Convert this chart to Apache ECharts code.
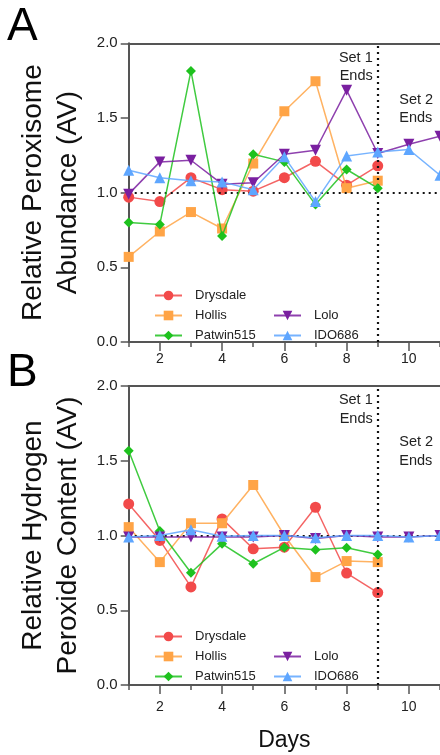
<!DOCTYPE html>
<html>
<head>
<meta charset="utf-8">
<script src="https://cdn.jsdelivr.net/npm/echarts@6/dist/echarts.min.js"></script>
<style>
html,body{margin:0;padding:0;background:#fff;}
#chart{width:440px;height:755px;}
</style>
</head>
<body>
<div id="chart"></div>
<script>
// ---- data ----
const days = [1, 2, 3, 4, 5, 6, 7, 8, 9, 10, 11];
const seriesNames = ['Drysdale', 'Hollis', 'Patwin515', 'Lolo', 'IDO686'];
const yTicks = [0, 0.5, 1.0, 1.5, 2.0];
const xLabelTicks = [2, 4, 6, 8, 10];

// Panel A: Relative Peroxisome Abundance
const aDrysdale  = [0.97, 0.94, 1.10, 1.02, 1.01, 1.10, 1.21, 1.05, 1.18];
const aHollis    = [0.57, 0.74, 0.87, 0.76, 1.195, 1.545, 1.746, 1.03, 1.08];
const aPatwin515 = [0.80, 0.787, 1.815, 0.71, 1.257, 1.206, 0.92, 1.155, 1.03];
const aLolo      = [0.99, 1.206, 1.217, 1.057, 1.066, 1.257, 1.284, 1.686, 1.262, 1.324, 1.378];
const aIDO686    = [1.15, 1.10, 1.08, 1.072, 1.02, 1.24, 0.94, 1.246, 1.273, 1.289, 1.117];

// Panel B: Relative Hydrogen Peroxide Content
const bDrysdale  = [1.211, 0.967, 0.656, 1.111, 0.911, 0.922, 1.189, 0.749, 0.618];
const bHollis    = [1.056, 0.822, 1.082, 1.082, 1.338, 1.0, 0.722, 0.829, 0.822];
const bPatwin515 = [1.567, 1.03, 0.751, 0.944, 0.811, 0.92, 0.904, 0.918, 0.873];
const bLolo      = [0.99, 0.99, 0.99, 0.99, 0.99, 1.0, 0.98, 1.0, 0.99, 0.99, 1.0];
const bIDO686    = [0.99, 1.0, 1.038, 0.995, 1.0, 1.0, 0.985, 1.0, 1.0, 0.99, 1.0];

const setEndDay = 9;
const refLevel = 1.0;

// ---- styles ----
const FONT = "'Liberation Sans', Arial, sans-serif";
const styleMap = {
  'Drysdale':  {color: '#f24a4a', symbol: 'circle', size: 11},
  'Hollis':    {color: '#ffa446', symbol: 'rect', size: 10},
  'Patwin515': {color: '#1ec21e', symbol: 'diamond', size: 10},
  'Lolo':      {color: '#7a1fa0', symbol: 'path://M0,0 L10,0 L5,10 Z', size: 11},
  'IDO686':    {color: '#5ea6ff', symbol: 'triangle', size: 11}
};
const axisColor = '#555';

const grids = [
  {left: 128.7, top: 43.3, width: 312.5, height: 298.7},
  {left: 128.7, top: 386, width: 312.5, height: 299}
];
const xLabelMargins = [10, 15];

function pairs(vals) { return vals.map((v, i) => [days[i], v]); }

const panelData = [
  [aDrysdale, aHollis, aPatwin515, aLolo, aIDO686],
  [bDrysdale, bHollis, bPatwin515, bLolo, bIDO686]
];
const yNames = ['Relative Peroxisome\nAbundance (AV)', 'Relative Hydrogen\nPeroxide Content (AV)'];

const xAxes = [], yAxes = [], series = [];
grids.forEach((g, gi) => {
  const base = gi * 3;
  // main x axis with short ticks at every day
  xAxes.push({
    type: 'value', gridIndex: gi, position: 'bottom', min: days[0], max: days[days.length - 1], interval: 1,
    axisLine: {show: true, onZero: false, lineStyle: {color: axisColor, width: 2}},
    axisTick: {show: true, length: 5, lineStyle: {color: axisColor, width: 1.5}},
    axisLabel: {show: false}, splitLine: {show: false},
    name: gi === 1 ? 'Days' : '', nameLocation: 'middle', nameGap: 44,
    nameTextStyle: {fontSize: 23, color: '#111', fontFamily: FONT}
  });
  // overlay axis for the long labelled ticks
  xAxes.push({
    type: 'value', gridIndex: gi, position: 'bottom', offset: 0, min: days[0], max: days[days.length - 1], interval: 1,
    axisLine: {show: false, onZero: false},
    axisTick: {show: true, length: 9, customValues: xLabelTicks, lineStyle: {color: axisColor, width: 1.5}},
    axisLabel: {show: true, customValues: xLabelTicks, fontSize: 14, color: '#222', fontFamily: FONT, margin: xLabelMargins[gi]},
    splitLine: {show: false}
  });
  // top frame line
  xAxes.push({
    type: 'value', gridIndex: gi, position: 'top', offset: 0, min: days[0], max: days[days.length - 1],
    axisLine: {show: true, onZero: false, lineStyle: {color: axisColor, width: 2}},
    axisTick: {show: false}, axisLabel: {show: false}, splitLine: {show: false}
  });
  yAxes.push({
    type: 'value', gridIndex: gi, min: yTicks[0], max: yTicks[yTicks.length - 1], interval: 0.5,
    axisLine: {show: true, onZero: false, lineStyle: {color: axisColor, width: 2}},
    axisTick: {show: true, length: 8, lineStyle: {color: axisColor, width: 1.5}},
    axisLabel: {fontSize: 15, color: '#222', fontFamily: FONT, margin: 11, formatter: v => v.toFixed(1)},
    splitLine: {show: false},
    name: yNames[gi], nameLocation: 'middle', nameRotate: 90, nameGap: 43,
    nameTextStyle: {fontSize: 28, lineHeight: 35, color: '#111', fontFamily: FONT, align: 'center'}
  });
  // reference lines
  series.push({
    type: 'line', xAxisIndex: base, yAxisIndex: gi, data: [], silent: true,
    markLine: {
      silent: true, symbol: 'none', label: {show: false}, animation: false,
      lineStyle: {color: '#111', type: [2, 4], width: 2.2},
      data: [{yAxis: refLevel}, {xAxis: setEndDay}]
    }
  });
  seriesNames.forEach((name, si) => {
    const st = styleMap[name];
    series.push({
      name: name, type: 'line', xAxisIndex: base, yAxisIndex: gi,
      data: pairs(panelData[gi][si]),
      symbol: st.symbol, symbolSize: st.size, showSymbol: true,
      lineStyle: {color: st.color, width: 1.5, opacity: 0.85},
      itemStyle: {color: st.color, opacity: 1},
      z: 3 + si, animation: false, clip: false
    });
  });
});

const legendCommon = {
  orient: 'vertical', itemWidth: 27, itemHeight: 12, itemGap: 7,
  textStyle: {fontSize: 13, color: '#222', fontFamily: FONT, padding: [0, 0, 0, 8]},
  selectedMode: false
};
const legends = [
  Object.assign({}, legendCommon, {data: ['Drysdale', 'Hollis', 'Patwin515'], left: 149, top: 284}),
  Object.assign({}, legendCommon, {data: ['Lolo', 'IDO686'], left: 268, top: 304}),
  Object.assign({}, legendCommon, {data: ['Drysdale', 'Hollis', 'Patwin515'], left: 149, top: 625}),
  Object.assign({}, legendCommon, {data: ['Lolo', 'IDO686'], left: 268, top: 645})
];

const chart = echarts.init(document.getElementById('chart'), null, {renderer: 'canvas'});
chart.setOption({
  animation: false,
  backgroundColor: '#fff',
  textStyle: {fontFamily: FONT},
  grid: grids,
  xAxis: xAxes,
  yAxis: yAxes,
  legend: legends,
  series: series
});

// annotations anchored to data coordinates
const graphics = [
  {type: 'text', left: 7, top: 4, style: {text: 'A', fontSize: 46, fill: '#000', fontFamily: FONT}},
  {type: 'text', left: 7, top: 350, style: {text: 'B', fontSize: 46, fill: '#000', fontFamily: FONT}}
];
grids.forEach((g, gi) => {
  const p = chart.convertToPixel({xAxisIndex: gi * 3, yAxisIndex: gi}, [setEndDay, yTicks[yTicks.length - 1]]);
  graphics.push({type: 'text', x: p[0] - 5, y: p[1] + 5, style: {text: 'Set 1\nEnds', fontSize: 14.5, lineHeight: 18.5, fill: '#222', fontFamily: FONT, align: 'right', verticalAlign: 'top'}});
  graphics.push({type: 'text', x: p[0] + 21.5, y: p[1] + 47, style: {text: 'Set 2\nEnds', fontSize: 14.5, lineHeight: 18.5, fill: '#222', fontFamily: FONT, align: 'left', verticalAlign: 'top'}});
});
chart.setOption({graphic: graphics});
</script>
</body>
</html>
